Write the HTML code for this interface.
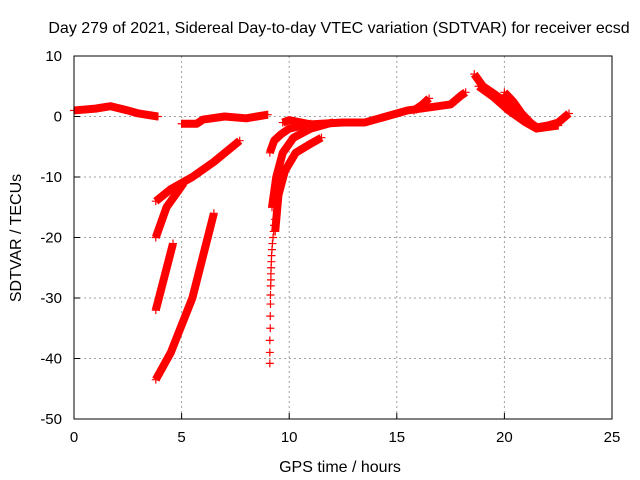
<!DOCTYPE html>
<html><head><meta charset="utf-8"><style>
body{margin:0;background:#fff;}
svg{display:block;font-family:"Liberation Sans",sans-serif;}
</style></head><body>
<svg id="chart" width="640" height="480">
<rect width="640" height="480" fill="#fff"/>
<text x="339" y="33" font-size="16" text-anchor="middle">Day 279 of 2021, Sidereal Day-to-day VTEC variation (SDTVAR) for receiver ecsd</text>
<text x="340" y="472" font-size="16" text-anchor="middle">GPS time / hours</text>
<text transform="translate(21,238) rotate(-90)" font-size="16" text-anchor="middle">SDTVAR / TECUs</text>
<g id="grid"></g><g id="ticks"></g><g id="marks"></g>
<rect x="74" y="56" width="538" height="363" fill="none" stroke="#000" stroke-width="1"/>
</svg>
<script>
const xTicks=[0,5,10,15,20,25];
const yTicks=[10,0,-10,-20,-30,-40,-50];
const track1=[[0,1],[1,1.3],[1.7,1.7],[2.5,1],[3,0.5],[3.9,0]];
const track2=[[5,-1.2],[5.7,-1.2],[6,-0.5],[7,0],[8,-0.3],[8.5,0],[9,0.3]];
const track3=[[9.7,-1],[10,-0.6],[11,-1.3],[12.5,-1],[13.5,-1],[14.5,0],[15.5,1],[16.5,1.5],[17.5,2],[18,3.5],[18.2,4]];
const track4=[[15.8,1],[16.2,2],[16.5,3]];
const track5=[[18.6,7],[19,5],[19.5,3.8],[20,2.5],[20.5,0.5],[21,-0.5],[21.5,-1.8],[22,-1.5],[22.5,-1],[23,0.5]];
const track6=[[18.8,5],[19.5,3.2],[20.2,1],[21,-1],[21.5,-2],[22.5,-1.5]];
const track7=[[20,4],[20.4,2.5],[20.8,0.5],[21.2,-1]];
const track8=[[3.8,-14],[4.5,-12],[5.5,-10],[6.5,-7.5],[7.7,-4]];
const track9=[[3.8,-20],[4.3,-15],[5.1,-11]];
const track10=[[3.8,-32],[4.6,-21]];
const track11=[[3.8,-43.5],[4.5,-39],[5.5,-30],[6.5,-16]];
const track12=[[9.1,-6],[9.3,-4],[9.6,-3],[10,-2],[11,-1.2]];
const track13=[[9.2,-15],[9.4,-10],[9.7,-6],[10.2,-3.5],[11,-2],[12,-1]];
const track14=[[9.35,-19],[9.5,-13],[9.8,-9],[10.3,-6],[11,-4.5],[11.5,-3.5]];
const tracks=[track1,track2,track3,track4,track5,track6,track7,track8,track9,track10,track11,track12,track13,track14];
const sparseT=[9.1,9.1,9.1,9.12,9.12,9.13,9.13,9.14,9.15,9.15,9.16,9.17,9.18,9.2,9.22,9.25,9.28,9.3,9.35];
const sparseV=[-40.8,-39,-37,-35,-33,-31,-29.5,-28,-27,-26,-25,-24,-23,-22,-21,-20,-19,-18,-17];
const X=t=>74+t*538/25;
const Y=v=>56+(10-v)*363/60;
const NS='http://www.w3.org/2000/svg';
const grid=document.getElementById('grid'),ticks=document.getElementById('ticks'),marks=document.getElementById('marks');
function mk(tag,attrs,parent){const e=document.createElementNS(NS,tag);for(const k in attrs)e.setAttribute(k,attrs[k]);parent.appendChild(e);return e;}
xTicks.forEach(t=>{
 if(t>0&&t<25){const g=mk('line',{x1:X(t),x2:X(t),y1:56,y2:419,stroke:'#a0a0a0','stroke-dasharray':'2,3'},grid);
 
 }
 const l=mk('text',{x:X(t),y:442,'font-size':15,'text-anchor':'middle'},ticks);l.textContent=t;
 
 
 mk('line',{x1:X(t),x2:X(t),y1:419,y2:413,stroke:'#000'},ticks);
});
yTicks.forEach(v=>{
 if(v<10&&v>-50){const g=mk('line',{x1:74,x2:612,y1:Y(v),y2:Y(v),stroke:'#a0a0a0','stroke-dasharray':'2,3'},grid);
 
 }
 const l=mk('text',{x:62,y:Y(v)+5,'font-size':15,'text-anchor':'end'},ticks);l.textContent=v;
 
 
 mk('line',{x1:74,x2:80,y1:Y(v),y2:Y(v),stroke:'#000'},ticks);
});
function plus(x,y){const p=mk('path',{d:`M${x-4},${y}h8M${x},${y-4}v8`,stroke:'#f00','stroke-width':1.2,fill:'none'},marks);
 
 }
tracks.forEach(tr=>{
 const pl=mk('polyline',{points:tr.map(p=>X(p[0])+','+Y(p[1])).join(' '),fill:'none',stroke:'#f00','stroke-width':8,'stroke-linejoin':'round','stroke-linecap':'butt'},marks);
 
 
 plus(X(tr[0][0]),Y(tr[0][1]));plus(X(tr[tr.length-1][0]),Y(tr[tr.length-1][1]));
});
sparseT.forEach((t,i)=>plus(X(t),Y(sparseV[i])));
</script>
</body></html>
